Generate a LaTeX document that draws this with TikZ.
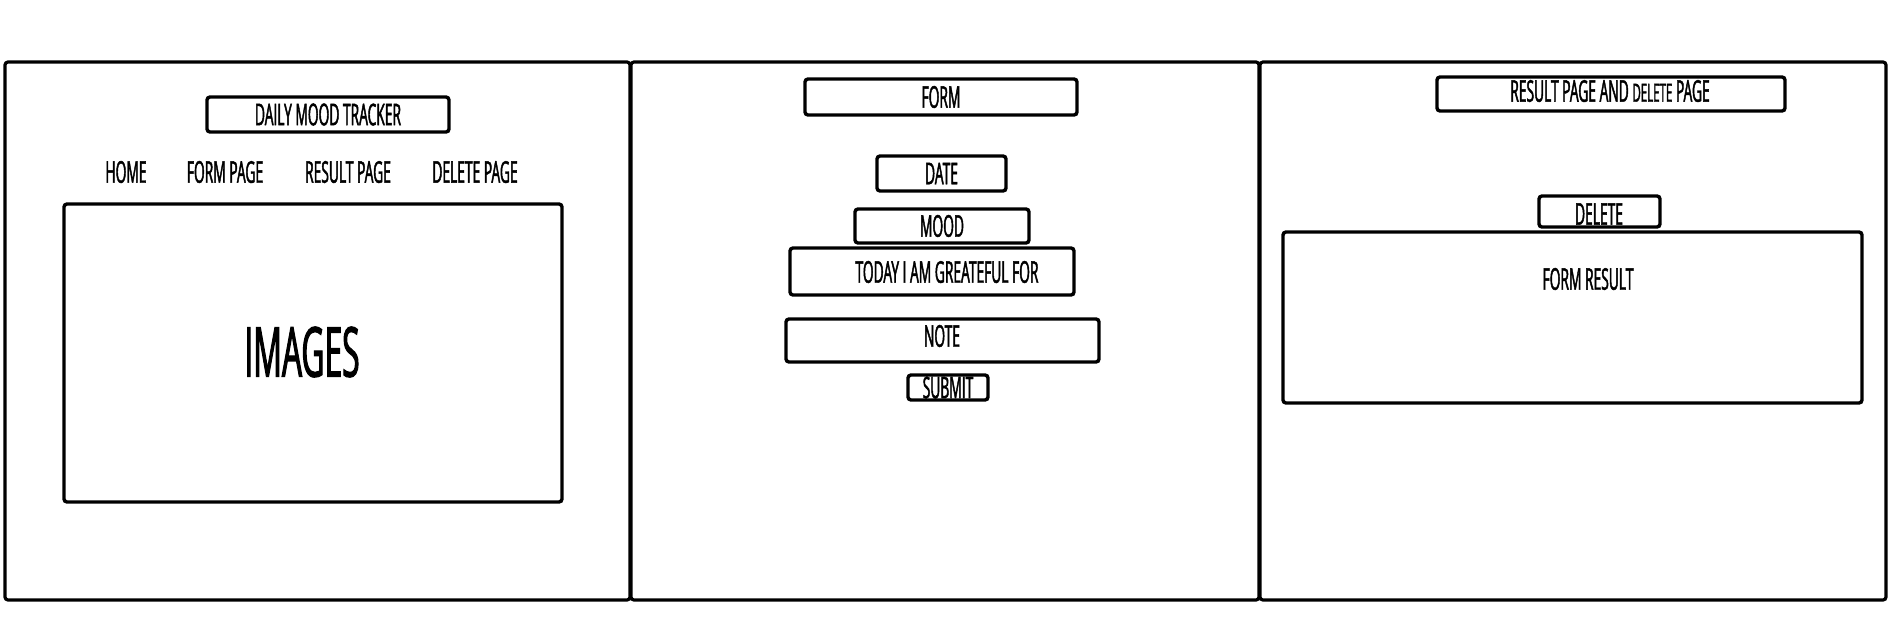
\documentclass[tikz,border=0pt]{standalone}
\usepackage{fontspec}
\newfontfamily\hand{Open Sans}[FakeStretch=0.46, FakeBold=1.5]
\usetikzlibrary{positioning}
\tikzset{
  frame/.style={draw=black, line width=3.2pt, rounded corners=3pt, inner sep=0pt},
  box/.style={draw=black, line width=3.4pt, rounded corners=3pt, inner sep=0pt, font=\hand\fontsize{30}{30}\selectfont},
  txt/.style={inner sep=0pt, font=\hand\fontsize{30}{30}\selectfont},
}
\newcommand{\mkbox}[6]{% name, x1, y1, x2, y2, text
  \node[box, minimum width={#4-#2}, minimum height={#5-#3}] (#1) at ({(#2+#4)/2},{(#3+#5)/2}) {#6};}
\begin{document}
\begin{tikzpicture}[x=1pt, y=-1pt]
\useasboundingbox (0,0) rectangle (1896,622);
% outer frames
\node[frame, minimum width=625, minimum height=538] (home) at (317.5,331) {};
\node[frame, minimum width=628, minimum height=538] (formpage) at (945,331) {};
\node[frame, minimum width=626, minimum height=538] (resultpage) at (1573,331) {};
% frame 1
\mkbox{title}{207}{97}{449}{132}{DAILY MOOD TRACKER}
\node[txt] (navhome) at (126,172) {HOME};
\node[txt] (navform) at (225,172) {FORM PAGE};
\node[txt] (navresult) at (348,172) {RESULT PAGE};
\node[txt] (navdelete) at (475,172) {DELETE PAGE};
\mkbox{images}{64}{204}{562}{502}{}
\node[txt, font=\hand\fontsize{69}{69}\selectfont] (imagestxt) at (302,352) {IMAGES};
% frame 2
\mkbox{form}{805}{79}{1077}{115}{FORM}
\mkbox{date}{877}{156}{1006}{191}{DATE}
\mkbox{mood}{855}{209}{1029}{243}{MOOD}
\mkbox{grateful}{790}{248}{1074}{295}{}
\node[txt] (gratefultxt) at (947,272) {TODAY I AM GREATEFUL FOR};
\mkbox{note}{786}{319}{1099}{362}{}
\node[txt] (notetxt) at (942,336) {NOTE};
\mkbox{submit}{908}{375}{988}{400}{SUBMIT}
% frame 3
\mkbox{rtitle}{1437}{77}{1785}{111}{}
\node[txt] (rtitletxt) at (1610,91) {RESULT PAGE AND {\fontsize{25}{25}\selectfont DELETE} PAGE};
\mkbox{delete}{1539}{196}{1660}{227}{}
\node[txt] (deletetxt) at (1599,214) {DELETE};
\mkbox{result}{1283}{232}{1862}{403}{}
\node[txt] (resulttxt) at (1588,279) {FORM RESULT};
\end{tikzpicture}
\end{document}
